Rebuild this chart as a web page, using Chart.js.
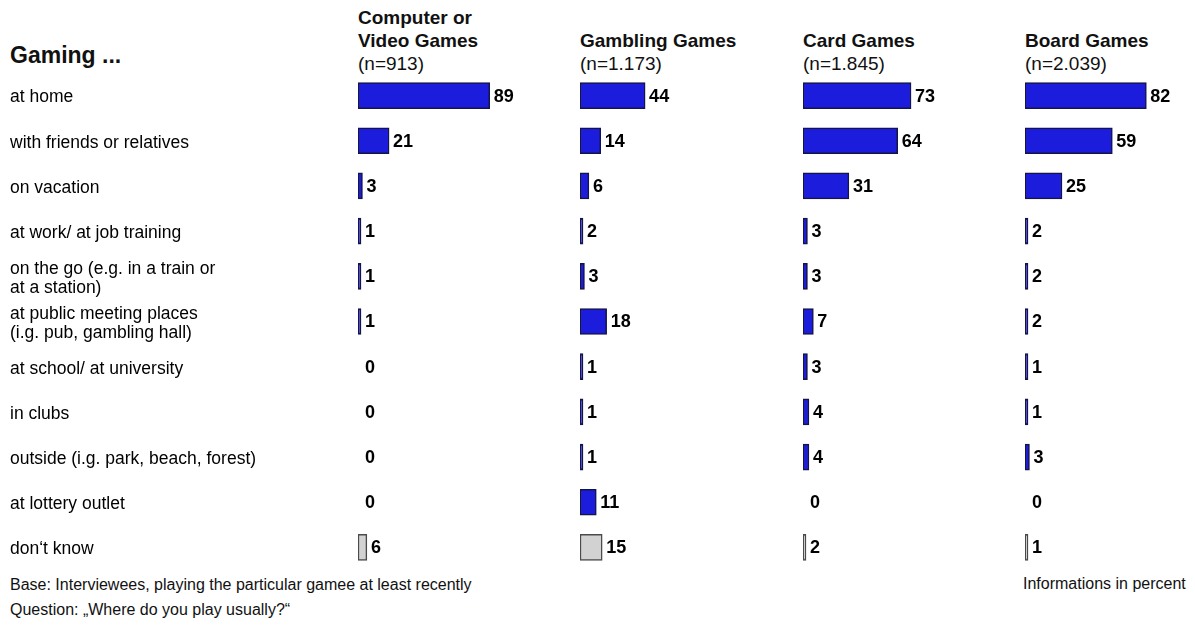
<!DOCTYPE html>
<html>
<head>
<meta charset="utf-8">
<script src="https://cdn.jsdelivr.net/npm/chart.js@4.4.1/dist/chart.umd.min.js"></script>
<style>
  html, body { margin: 0; padding: 0; background: #fff; overflow: hidden; }
  #page { position: relative; width: 1195px; height: 626px; font-family: "Liberation Sans", Arial, sans-serif; color: #111; }
  .txt { position: absolute; white-space: nowrap; }
  .head { font-size: 19px; line-height: 23px; }
  .head b { font-weight: bold; }
  .foot { font-size: 16px; line-height: 18px; }
  .panel { position: absolute; top: 73px; height: 497px; }
</style>
</head>
<body>
<div id="page">
  <div class="txt" style="left:10px;top:41px;font-size:23px;font-weight:bold;line-height:28px;">Gaming ...</div>

  <div class="txt head" style="left:358px;top:6px;"><b>Computer or</b><br><b>Video Games</b><br>(n=913)</div>
  <div class="txt head" style="left:580px;top:29px;"><b>Gambling Games</b><br>(n=1.173)</div>
  <div class="txt head" style="left:803px;top:29px;"><b>Card Games</b><br>(n=1.845)</div>
  <div class="txt head" style="left:1025px;top:29px;"><b>Board Games</b><br>(n=2.039)</div>

  <div class="panel" style="left:0px;width:580px;"><canvas id="computer" width="580" height="497"></canvas></div>
  <div class="panel" style="left:580px;width:222px;"><canvas id="gambling" width="222" height="497"></canvas></div>
  <div class="panel" style="left:803px;width:222px;"><canvas id="card" width="222" height="497"></canvas></div>
  <div class="panel" style="left:1025px;width:222px;"><canvas id="board" width="222" height="497"></canvas></div>

  <div class="txt foot" style="left:10px;top:576px;">Base: Interviewees, playing the particular gamee at least recently</div>
  <div class="txt foot" style="left:10px;top:601px;">Question: „Where do you play usually?“</div>
  <div class="txt foot" style="left:1023px;top:575px;">Informations in percent</div>
</div>

<script>
var categories = [
    'at home',
    'with friends or relatives',
    'on vacation',
    'at work/ at job training',
    ['on the go (e.g. in a train or', 'at a station)'],
    ['at public meeting places', '(i.g. pub, gambling hall)'],
    'at school/ at university',
    'in clubs',
    'outside (i.g. park, beach, forest)',
    'at lottery outlet',
    'don\u2018t know'
];
var computerGames = [89, 21, 3, 1, 1, 1, 0, 0, 0, 0, 6];
var gamblingGames = [44, 14, 6, 2, 3, 18, 1, 1, 1, 11, 15];
var cardGames = [73, 64, 31, 3, 3, 7, 3, 4, 4, 0, 2];
var boardGames = [82, 59, 25, 2, 2, 2, 1, 1, 3, 0, 1];

Chart.defaults.font.family = '"Liberation Sans", Arial, sans-serif';
Chart.defaults.color = '#111';

var lastIndex = categories.length - 1;  // "don't know" row is grey

// writes the number right next to each bar
var valueLabels = {
    id: 'valueLabels',
    afterDatasetsDraw: function (chart) {
        var ctx = chart.ctx;
        var meta = chart.getDatasetMeta(0);
        var data = chart.data.datasets[0].data;
        ctx.save();
        ctx.font = 'bold 18px "Liberation Sans", Arial, sans-serif';
        ctx.fillStyle = '#000';
        ctx.textAlign = 'left';
        ctx.textBaseline = 'middle';
        meta.data.forEach(function (bar, i) {
            ctx.fillText(String(data[i]), bar.x + 4, bar.y + 1);
        });
        ctx.restore();
    }
};

function createPanel(chartId, values, showLabels) {
    var canvas = document.getElementById(chartId);
    return new Chart(canvas.getContext('2d'), {
        type: 'bar',
        data: {
            labels: categories,
            datasets: [{
                data: values,
                backgroundColor: function (c) {
                    if (c.raw === 0) return 'rgba(0,0,0,0)';
                    return c.dataIndex === lastIndex ? '#d2d2d2' : '#1c1cdc';
                },
                borderColor: function (c) {
                    if (c.raw === 0) return 'rgba(0,0,0,0)';
                    return c.dataIndex === lastIndex ? '#4a4a4a' : '#141446';
                },
                borderWidth: 1.5,
                borderSkipped: false,
                barThickness: 26,
                minBarLength: 3
            }]
        },
        options: {
            indexAxis: 'y',
            responsive: false,
            animation: false,
            layout: { padding: { left: showLabels ? 10 : 0, right: 0, top: 0, bottom: 0 } },
            plugins: {
                legend: { display: false },
                tooltip: { enabled: false }
            },
            scales: {
                x: { display: false, min: 0, max: 150 },
                y: {
                    display: showLabels,
                    grid: { display: false },
                    border: { display: false },
                    ticks: {
                        crossAlign: 'far',
                        color: '#000',
                        labelOffset: 2,
                        font: { size: 17.5, lineHeight: 1.1 }
                    },
                    afterFit: function (scale) {
                        if (!showLabels) return;
                        scale.width = 348;
                        // no extra room above/below the first and last rows
                        scale.paddingTop = 0;
                        scale.paddingBottom = 0;
                    }
                }
            }
        },
        plugins: [valueLabels]
    });
}

createPanel('computer', computerGames, true);
createPanel('gambling', gamblingGames, false);
createPanel('card', cardGames, false);
createPanel('board', boardGames, false);
</script>
</body>
</html>
